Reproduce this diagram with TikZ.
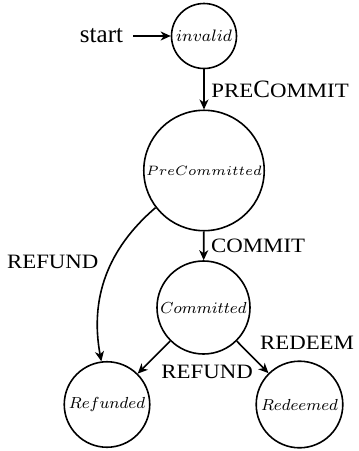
\RequirePackage{fix-cm}
\documentclass[tikz,border=0pt]{standalone}
\usepackage{fontspec}
\setmainfont{Liberation Serif}
\newfontfamily\scfont[FakeStretch=1.12]{Liberation Serif}
\usetikzlibrary{arrows.meta}
\usetikzlibrary{calc}

\newcommand{\smc}[1]{{\scfont\fontsize{10.2}{12}\selectfont\MakeUppercase{#1}}}
\newcommand{\stname}[2]{{\fontsize{#1}{#1}\selectfont$#2$}}

\tikzset{
  stnode/.style={draw,circle,thick,inner sep=1pt},
  trans/.style={->,thick,>={Stealth[length=5pt,width=4.5pt,inset=1.5pt]}},
  lbl/.style={font=\fontsize{12.5}{15}\selectfont}
}

\begin{document}
\begin{tikzpicture}[x=0.5pt,y=-0.5pt]
\useasboundingbox (0,0) rectangle (359,451);
\node[stnode,minimum size=32.5pt] (I) at (204,36) {\stname{8.3}{invalid}};
\node[stnode,minimum size=50pt] (P) at (204,170.5) {\stname{6.8}{PreCommitted}};
\node[stnode,minimum size=46.5pt] (C) at (203.5,307.5) {\stname{8}{Committed}};
\node[stnode,minimum size=42.75pt] (RF) at (107,404.5) {\stname{8}{Refunded}};
\node[stnode,minimum size=43.3pt] (RD) at (299.5,404.5) {\stname{8}{Redeemed}};
\node[lbl,inner sep=5pt] (S) at (101.5,36) {start};

\draw[trans] (S) -- (I);
\draw[trans] (I) -- node[lbl,auto] {\smc{pre}C\smc{ommit}} (P);
\draw[trans] (P) -- node[lbl,auto] {\smc{commit}} (C);
\draw[trans] (P) to[bend right=30] node[lbl,auto,swap] {\smc{refund}} (RF);
\draw[trans] (C) -- node[lbl,auto] {\smc{refund}} (RF);
\draw[trans] (C) -- node[lbl,auto] {\smc{redeem}} (RD);
\end{tikzpicture}
\end{document}
